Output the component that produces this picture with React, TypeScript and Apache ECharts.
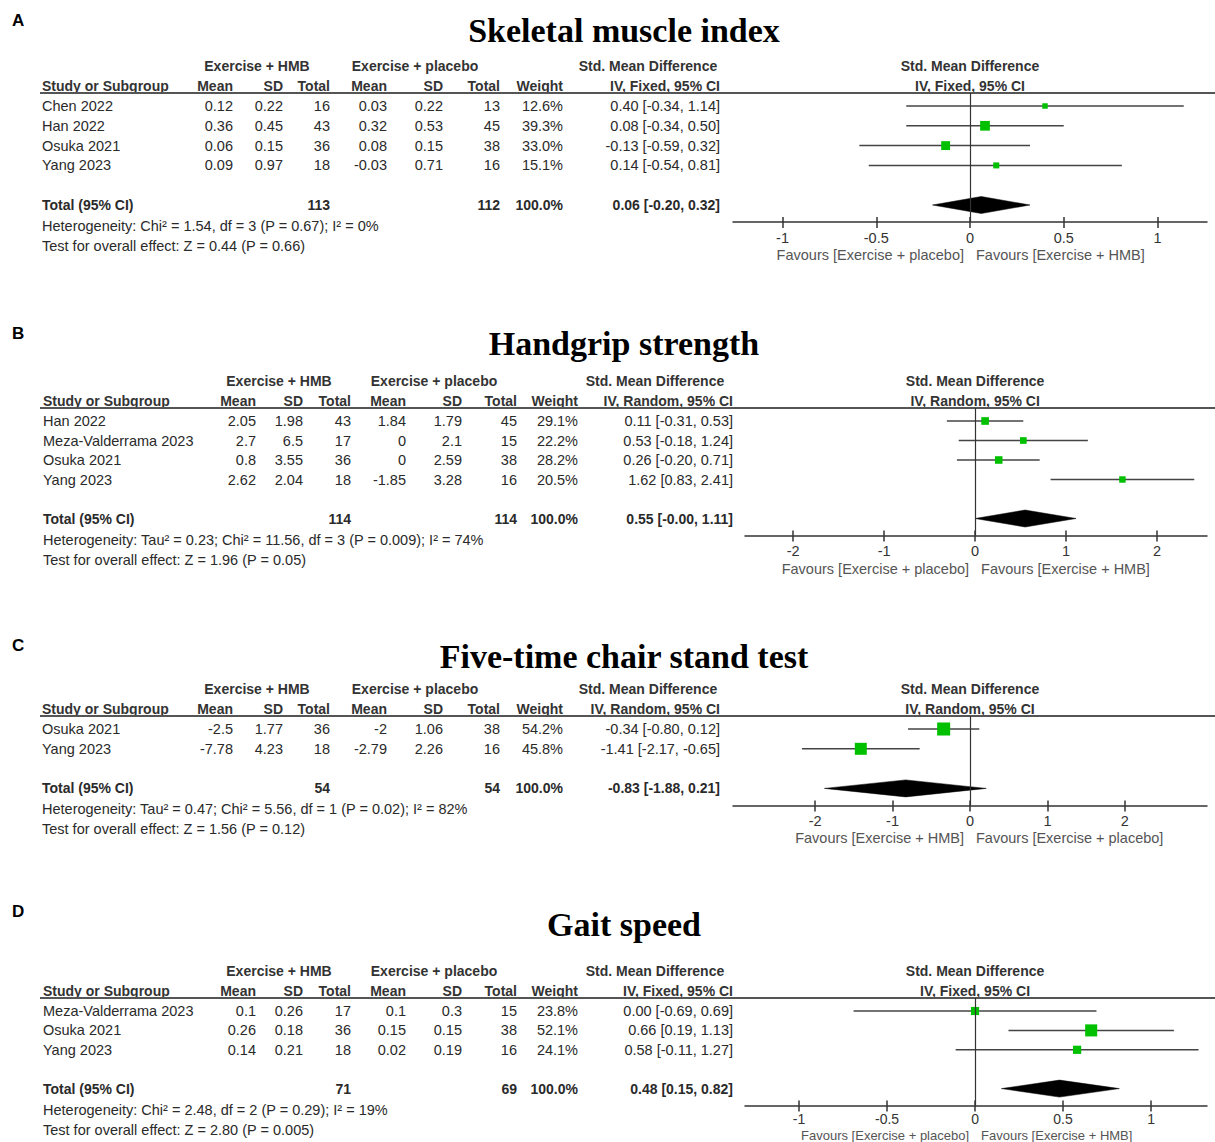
import React, { useEffect, useRef } from "react";
import * as echarts from "echarts";

// ---------- DATA ----------
const panelLetters = ["A", "B", "C", "D"];
const titles = ["Skeletal muscle index", "Handgrip strength", "Five-time chair stand test", "Gait speed"];
const methods = ["IV, Fixed, 95% CI", "IV, Random, 95% CI", "IV, Random, 95% CI", "IV, Fixed, 95% CI"];
const favoursLeft = ["Favours [Exercise + placebo]", "Favours [Exercise + placebo]", "Favours [Exercise + HMB]", "Favours [Exercise + placebo]"];
const favoursRight = ["Favours [Exercise + HMB]", "Favours [Exercise + HMB]", "Favours [Exercise + placebo]", "Favours [Exercise + HMB]"];
const axisTicks = [[-1, -0.5, 0, 0.5, 1], [-2, -1, 0, 1, 2], [-2, -1, 0, 1, 2], [-1, -0.5, 0, 0.5, 1]];
const axisMin = [-1.264, -2.53, -3.06, -1.307];
const axisMax = [1.264, 2.55, 3.06, 1.318];

// Panel A: Skeletal muscle index
const studiesA = ["Chen 2022", "Han 2022", "Osuka 2021", "Yang 2023"];
const hmbMeanA = [0.12, 0.36, 0.06, 0.09];
const hmbSdA = [0.22, 0.45, 0.15, 0.97];
const hmbNA = [16, 43, 36, 18];
const plaMeanA = [0.03, 0.32, 0.08, -0.03];
const plaSdA = [0.22, 0.53, 0.15, 0.71];
const plaNA = [13, 45, 38, 16];
const weightA = [12.6, 39.3, 33.0, 15.1];
const smdA = [0.4, 0.08, -0.13, 0.14];
const loA = [-0.34, -0.34, -0.59, -0.54];
const hiA = [1.14, 0.5, 0.32, 0.81];

// Panel B: Handgrip strength
const studiesB = ["Han 2022", "Meza-Valderrama 2023", "Osuka 2021", "Yang 2023"];
const hmbMeanB = [2.05, 2.7, 0.8, 2.62];
const hmbSdB = [1.98, 6.5, 3.55, 2.04];
const hmbNB = [43, 17, 36, 18];
const plaMeanB = [1.84, 0, 0, -1.85];
const plaSdB = [1.79, 2.1, 2.59, 3.28];
const plaNB = [45, 15, 38, 16];
const weightB = [29.1, 22.2, 28.2, 20.5];
const smdB = [0.11, 0.53, 0.26, 1.62];
const loB = [-0.31, -0.18, -0.2, 0.83];
const hiB = [0.53, 1.24, 0.71, 2.41];

// Panel C: Five-time chair stand test
const studiesC = ["Osuka 2021", "Yang 2023"];
const hmbMeanC = [-2.5, -7.78];
const hmbSdC = [1.77, 4.23];
const hmbNC = [36, 18];
const plaMeanC = [-2, -2.79];
const plaSdC = [1.06, 2.26];
const plaNC = [38, 16];
const weightC = [54.2, 45.8];
const smdC = [-0.34, -1.41];
const loC = [-0.8, -2.17];
const hiC = [0.12, -0.65];

// Panel D: Gait speed
const studiesD = ["Meza-Valderrama 2023", "Osuka 2021", "Yang 2023"];
const hmbMeanD = [0.1, 0.26, 0.14];
const hmbSdD = [0.26, 0.18, 0.21];
const hmbND = [17, 36, 18];
const plaMeanD = [0.1, 0.15, 0.02];
const plaSdD = [0.3, 0.15, 0.19];
const plaND = [15, 38, 16];
const weightD = [23.8, 52.1, 24.1];
const smdD = [0.0, 0.66, 0.58];
const loD = [-0.69, 0.19, -0.11];
const hiD = [0.69, 1.13, 1.27];

// Totals and statistics (A, B, C, D)
const totalHmbN = [113, 114, 54, 71];
const totalPlaN = [112, 114, 54, 69];
const totalSmd = [0.06, 0.55, -0.83, 0.48];
const totalLo = [-0.2, -0, -1.88, 0.15];
const totalHi = [0.32, 1.11, 0.21, 0.82];
const hetTau2 = [null, 0.23, 0.47, null];
const hetChi2 = [1.54, 11.56, 5.56, 2.48];
const hetDf = [3, 3, 1, 2];
const hetP = ["0.67", "0.009", "0.02", "0.29"];
const hetI2 = [0, 74, 82, 19];
const overallZ = [0.44, 1.96, 1.56, 2.8];
const overallP = ["0.66", "0.05", "0.12", "0.005"];

// ---------- LAYOUT / STYLE ----------
const colsNarrow = { studyX: 42, right: [233, 283, 330, 387, 443, 500, 563, 720], h1: [257, 415, 648] };
const colsWide = { studyX: 43, right: [256, 303, 351, 406, 462, 517, 578, 733], h1: [279, 434, 655] };
const layouts = [
  { labelY: 20, titleY: 30, lineY: 93, rowH: 19.8, cols: colsNarrow, plotLeft: 733, plotWidth: 474, sq: 1.55, favY: 33, favSize: 14.5, tickMargin: 8, tickSize: 14.5 },
  { labelY: 333, titleY: 343, lineY: 408, rowH: 19.5, cols: colsWide, plotLeft: 745, plotWidth: 462, sq: 1.42, favY: 33, favSize: 14.5, tickMargin: 8, tickSize: 14.5 },
  { labelY: 645, titleY: 656, lineY: 716, rowH: 19.8, cols: colsNarrow, plotLeft: 733, plotWidth: 474, sq: 1.77, favY: 33, favSize: 14.5, tickMargin: 8, tickSize: 14.5 },
  { labelY: 911, titleY: 924, lineY: 998, rowH: 19.4, cols: colsWide, plotLeft: 745, plotWidth: 462, sq: 1.67, favY: 29.5, favSize: 13, tickMargin: 6, tickSize: 14 },
];

const SANS = "'Liberation Sans', Arial, sans-serif";
const SERIF = "'Liberation Serif', 'Times New Roman', serif";
const TXT = "#2a2a2a";
const GREEN = "#00c000";

const fmt2 = (v: number) => (Object.is(v, -0) ? "-" : "") + v.toFixed(2);
const ciText = (m: number, l: number, h: number) => `${fmt2(m)} [${fmt2(l)}, ${fmt2(h)}]`;

function txt(x: number, y: number, text: string, opts: any = {}) {
  const align = opts.align || "left";
  return {
    type: "text",
    x,
    y,
    silent: true,
    style: {
      text,
      fill: opts.color || TXT,
      fontSize: opts.size || 14.5,
      fontFamily: opts.family || SANS,
      fontWeight: opts.bold ? "bold" : "normal",
      align,
      textAlign: align,
      verticalAlign: "middle",
      textVerticalAlign: "middle",
    },
  };
}

export default function App() {
  const ref = useRef<HTMLDivElement>(null);

  useEffect(() => {
    document.body.style.margin = "0";
    if (!ref.current) return;
    const chart = echarts.init(ref.current, undefined, { renderer: "svg" });

    const panels = [
      { studies: studiesA, hm: hmbMeanA, hs: hmbSdA, hn: hmbNA, pm: plaMeanA, ps: plaSdA, pn: plaNA, w: weightA, smd: smdA, lo: loA, hi: hiA },
      { studies: studiesB, hm: hmbMeanB, hs: hmbSdB, hn: hmbNB, pm: plaMeanB, ps: plaSdB, pn: plaNB, w: weightB, smd: smdB, lo: loB, hi: hiB },
      { studies: studiesC, hm: hmbMeanC, hs: hmbSdC, hn: hmbNC, pm: plaMeanC, ps: plaSdC, pn: plaNC, w: weightC, smd: smdC, lo: loC, hi: hiC },
      { studies: studiesD, hm: hmbMeanD, hs: hmbSdD, hn: hmbND, pm: plaMeanD, ps: plaSdD, pn: plaND, w: weightD, smd: smdD, lo: loD, hi: hiD },
    ];

    const grids: any[] = [];
    const xAxes: any[] = [];
    const yAxes: any[] = [];
    const series: any[] = [];
    const graphics: any[] = [];

    panels.forEach((p, i) => {
      const L = layouts[i];
      const n = p.studies.length;
      const row0Y = L.lineY + 13;
      const totalIdx = n + 1;
      const totalY = row0Y + totalIdx * L.rowH;
      const axisY = totalY + 17;
      const c = L.cols;
      const zeroX = L.plotLeft + ((0 - axisMin[i]) / (axisMax[i] - axisMin[i])) * L.plotWidth;

      // Texts
      graphics.push(txt(12, L.labelY, panelLetters[i], { bold: true, size: 17, color: "#000" }));
      graphics.push(txt(624, L.titleY, titles[i], { bold: true, size: 34, family: SERIF, color: "#000", align: "center" }));
      const h1Y = L.lineY - 27;
      const h2Y = L.lineY - 7;
      graphics.push(txt(c.h1[0], h1Y, "Exercise + HMB", { bold: true, size: 14, align: "center", color: "#333" }));
      graphics.push(txt(c.h1[1], h1Y, "Exercise + placebo", { bold: true, size: 14, align: "center", color: "#333" }));
      graphics.push(txt(c.h1[2], h1Y, "Std. Mean Difference", { bold: true, size: 14, align: "center", color: "#333" }));
      graphics.push(txt(zeroX, h1Y, "Std. Mean Difference", { bold: true, size: 14, align: "center", color: "#333" }));
      graphics.push(txt(zeroX, h2Y, methods[i], { bold: true, size: 14, align: "center", color: "#333" }));
      graphics.push(txt(c.studyX, h2Y, "Study or Subgroup", { bold: true, size: 14, color: "#333" }));
      const h2 = ["Mean", "SD", "Total", "Mean", "SD", "Total", "Weight", methods[i]];
      h2.forEach((t, k) => graphics.push(txt(c.right[k], h2Y, t, { bold: true, size: 14, align: "right", color: "#333" })));
      graphics.push({
        type: "line",
        silent: true,
        shape: { x1: 40, y1: L.lineY, x2: 1215, y2: L.lineY },
        style: { stroke: "#555", lineWidth: 2 },
      });

      p.studies.forEach((s, r) => {
        const y = row0Y + r * L.rowH;
        graphics.push(txt(c.studyX, y, s));
        const vals = [
          String(p.hm[r]), String(p.hs[r]), String(p.hn[r]),
          String(p.pm[r]), String(p.ps[r]), String(p.pn[r]),
          p.w[r].toFixed(1) + "%", ciText(p.smd[r], p.lo[r], p.hi[r]),
        ];
        vals.forEach((v, k) => graphics.push(txt(c.right[k], y, v, { align: "right" })));
      });

      graphics.push(txt(c.studyX, totalY, "Total (95% CI)", { bold: true, size: 14 }));
      graphics.push(txt(c.right[2], totalY, String(totalHmbN[i]), { bold: true, size: 14, align: "right" }));
      graphics.push(txt(c.right[5], totalY, String(totalPlaN[i]), { bold: true, size: 14, align: "right" }));
      graphics.push(txt(c.right[6], totalY, "100.0%", { bold: true, size: 14, align: "right" }));
      graphics.push(txt(c.right[7], totalY, ciText(totalSmd[i], totalLo[i], totalHi[i]), { bold: true, size: 14, align: "right" }));

      const tau = hetTau2[i] !== null ? `Tau² = ${(hetTau2[i] as number).toFixed(2)}; ` : "";
      graphics.push(txt(c.studyX, totalY + 21,
        `Heterogeneity: ${tau}Chi² = ${hetChi2[i].toFixed(2)}, df = ${hetDf[i]} (P = ${hetP[i]}); I² = ${hetI2[i]}%`));
      graphics.push(txt(c.studyX, totalY + 41,
        `Test for overall effect: Z = ${overallZ[i].toFixed(2)} (P = ${overallP[i]})`));

      graphics.push(txt(zeroX - 6, axisY + L.favY, favoursLeft[i], { align: "right", color: "#555", size: L.favSize }));
      graphics.push(txt(zeroX + 6, axisY + L.favY, favoursRight[i], { align: "left", color: "#555", size: L.favSize }));

      // Grid & axes
      grids.push({ left: L.plotLeft, top: L.lineY, width: L.plotWidth, height: axisY - L.lineY, containLabel: false });
      xAxes.push({
        gridIndex: i, type: "value", min: axisMin[i], max: axisMax[i], position: "bottom",
        axisLine: { show: true, onZero: false, lineStyle: { color: "#333", width: 1.5 } },
        axisTick: { show: true, customValues: axisTicks[i], length: 6, lineStyle: { color: "#333", width: 1.5 } },
        axisLabel: { show: true, customValues: axisTicks[i], margin: L.tickMargin, color: "#333", fontSize: L.tickSize, fontFamily: SANS },
        splitLine: { show: false },
      });
      xAxes.push({
        gridIndex: i, type: "value", min: axisMin[i], max: axisMax[i], position: "bottom",
        axisLine: { show: false, onZero: false },
        axisTick: { show: true, inside: true, customValues: axisTicks[i], length: 5, lineStyle: { color: "#333", width: 1.5 } },
        axisLabel: { show: false },
        splitLine: { show: false },
      });
      yAxes.push({
        gridIndex: i, type: "value", inverse: true, show: false,
        min: (L.lineY - row0Y) / L.rowH, max: (axisY - row0Y) / L.rowH,
        splitLine: { show: false },
      });

      const data: any[] = p.studies.map((_, r) => [p.smd[r], r, p.lo[r], p.hi[r], p.w[r], 0]);
      data.push([totalSmd[i], totalIdx, totalLo[i], totalHi[i], 100, 1]);
      const sq = L.sq;
      series.push({
        type: "custom",
        xAxisIndex: 2 * i,
        yAxisIndex: i,
        silent: true,
        clip: false,
        data,
        renderItem: (params: any, api: any) => {
          const x = api.value(0), row = api.value(1), lo = api.value(2), hi = api.value(3), w = api.value(4), isTot = api.value(5);
          const pc = api.coord([x, row]);
          const pl = api.coord([lo, row]);
          const ph = api.coord([hi, row]);
          if (isTot) {
            const dh = 8.5;
            return {
              type: "polygon",
              shape: { points: [[pl[0], pc[1]], [pc[0], pc[1] - dh], [ph[0], pc[1]], [pc[0], pc[1] + dh]] },
              style: { fill: "#000", stroke: "#000", lineWidth: 0.5 },
            };
          }
          const size = sq * Math.sqrt(w);
          return {
            type: "group",
            children: [
              { type: "line", shape: { x1: pl[0], y1: pl[1], x2: ph[0], y2: ph[1] }, style: { stroke: "#444", lineWidth: 1.5 } },
              { type: "rect", shape: { x: pc[0] - size / 2, y: pc[1] - size / 2, width: size, height: size }, style: { fill: GREEN } },
            ],
          };
        },
        markLine: {
          silent: true,
          symbol: ["none", "none"],
          label: { show: false },
          lineStyle: { color: "#333", width: 1.2, type: "solid" },
          data: [{ xAxis: 0 }],
        },
      });
    });

    chart.setOption({
      animation: false,
      backgroundColor: "#fff",
      grid: grids,
      xAxis: xAxes,
      yAxis: yAxes,
      series,
      graphic: { elements: graphics },
    });

    return () => chart.dispose();
  }, []);

  return <div ref={ref} style={{ width: 1215, height: 1142 }} />;
}
